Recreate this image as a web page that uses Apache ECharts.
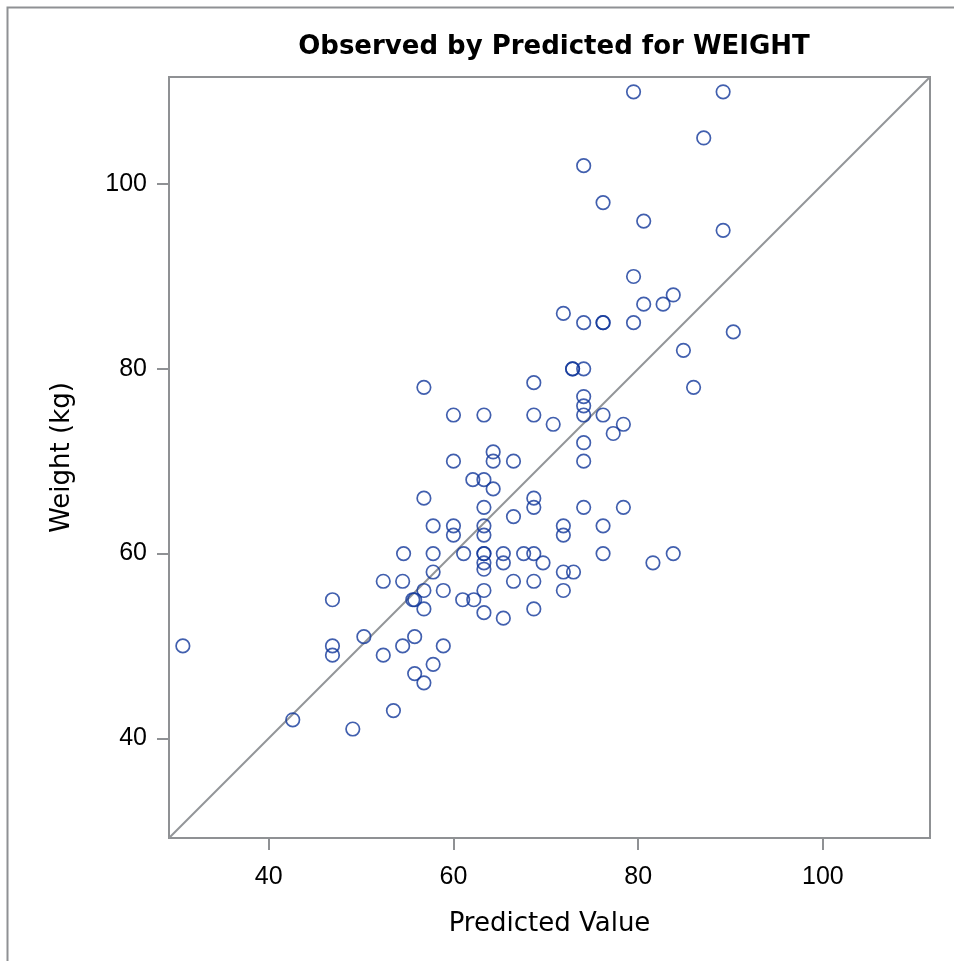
<!DOCTYPE html>
<html>
<head>
<meta charset="utf-8">
<script src="https://cdn.jsdelivr.net/npm/echarts@6/dist/echarts.min.js"></script>
<style>
  html, body { margin: 0; padding: 0; background: #fff; }
  #chart { width: 954px; height: 961px; }
</style>
</head>
<body>
<div id="chart"></div>
<script>
const predicted = [79.5,89.2,87.1,74.1,76.2,80.6,89.2,79.5,83.8,80.6,82.7,71.9,74.1,76.2,76.2,79.5,90.3,84.9,72.9,72.9,74.1,56.8,68.7,86,74.1,74.1,60,63.3,68.7,74.1,76.2,70.8,78.4,77.3,74.1,64.3,60,64.3,66.5,74.1,62.1,63.3,64.3,56.8,68.7,63.3,68.7,74.1,78.4,66.5,57.8,60,63.3,71.9,76.2,60,63.3,71.9,54.6,57.8,61.1,63.3,63.3,65.4,67.6,68.7,76.2,83.8,63.3,65.4,69.7,81.6,57.8,63.3,71.9,73,52.4,54.5,66.5,68.7,56.8,58.9,63.3,71.9,46.9,55.6,55.8,61,62.2,56.8,68.7,63.3,65.4,50.3,55.8,30.7,46.9,54.5,58.9,46.9,52.4,57.8,55.8,56.8,53.5,42.6,49.1];
const observed = [110,110,105,102,98,96,95,90,88,87,87,86,85,85,85,85,84,82,80,80,80,78,78.5,78,77,76,75,75,75,75,75,74,74,73,72,71,70,70,70,70,68,68,67,66,66,65,65,65,65,64,63,63,63,63,63,62,62,62,60,60,60,60,60,60,60,60,60,60,59,59,59,59,58,58.3,58,58,57,57,57,57,56,56,56,56,55,55,55,55,55,54,54,53.6,53,51,51,50,50,50,50,49,49,48,47,46,43,42,41];
const axisMin = 29.2;
const axisMax = 111.6;
const tickValues = [40, 60, 80, 100];
const titleText = 'Observed by Predicted for WEIGHT';
const xName = 'Predicted Value';
const yName = 'Weight (kg)';

const points = predicted.map((p, i) => [p, observed[i]]);
const frameColor = '#8f9194';
const tickFont = 'Liberation Sans';
const textFont = 'DejaVu Sans';

const chart = echarts.init(document.getElementById('chart'), null, { renderer: 'canvas' });
const axisCommon = {
  type: 'value',
  min: axisMin,
  max: axisMax,
  nameLocation: 'middle',
  nameTextStyle: { fontFamily: textFont, fontSize: 26, color: '#000' },
  axisLine: { show: false },
  axisTick: { show: true, customValues: tickValues, length: 12, inside: false, lineStyle: { color: frameColor, width: 2 } },
  axisLabel: { customValues: tickValues, fontFamily: tickFont, fontSize: 25, color: '#000' },
  splitLine: { show: false }
};
chart.setOption({
  animation: false,
  backgroundColor: '#fff',
  title: {
    text: titleText,
    left: 549, top: 29, textAlign: 'center',
    textStyle: { fontFamily: textFont, fontWeight: 'bold', fontSize: 26, color: '#000' }
  },
  grid: {
    left: 169, top: 77, width: 761, height: 761,
    show: true, borderColor: frameColor, borderWidth: 2, backgroundColor: 'transparent'
  },
  xAxis: Object.assign({}, axisCommon, {
    name: xName, nameGap: 73,
    axisLabel: Object.assign({}, axisCommon.axisLabel, { margin: 27 })
  }),
  yAxis: Object.assign({}, axisCommon, {
    name: yName, nameGap: 94,
    axisLabel: Object.assign({}, axisCommon.axisLabel, { margin: 22 })
  }),
  graphic: [{
    type: 'rect', left: 5, top: 5, z: -1,
    shape: { x: 0, y: 0, width: 1100, height: 1100 },
    style: { fill: 'none', stroke: frameColor, lineWidth: 2 }
  }],
  series: [
    {
      type: 'line',
      data: [[axisMin, axisMin], [axisMax, axisMax]],
      symbol: 'none',
      lineStyle: { color: '#939598', width: 2 },
      silent: true, z: 1
    },
    {
      type: 'scatter',
      data: points,
      symbol: 'circle',
      symbolSize: 13.5,
      itemStyle: { color: 'rgba(255,255,255,0)', borderColor: '#12379a', borderWidth: 1.7 },
      z: 2
    }
  ]
});
</script>
</body>
</html>
